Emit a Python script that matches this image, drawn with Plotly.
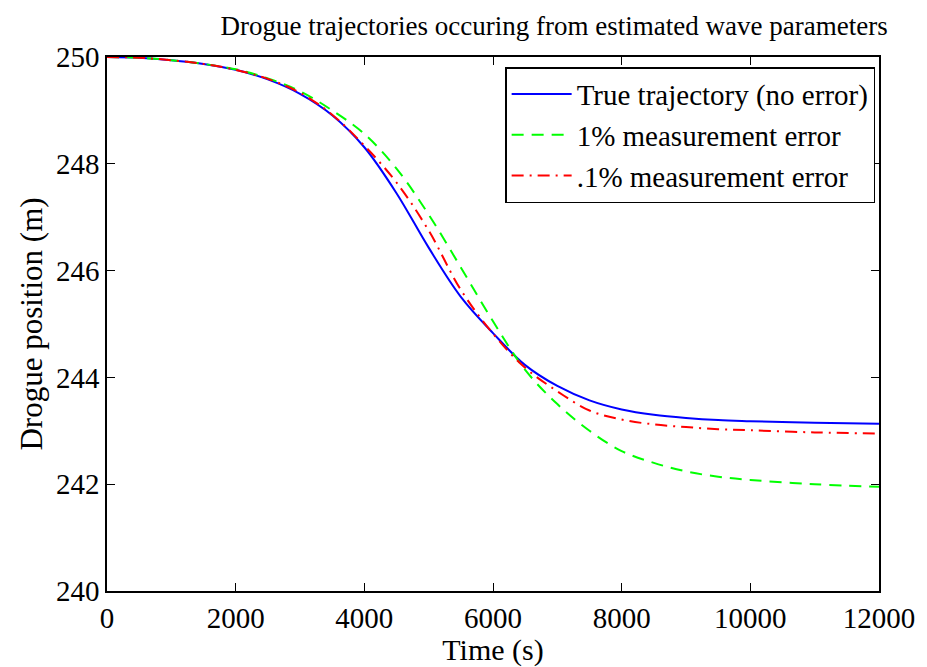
import plotly.graph_objects as go

time_s = [0, 500, 1000, 1500, 2000, 2500, 3000, 3500, 4000, 4500, 5000, 5500, 6000, 6500,
          7000, 7500, 8000, 8500, 9000, 9500, 10000, 11000, 12000]
true_traj = [250.0, 249.985, 249.94, 249.87, 249.76, 249.58, 249.31, 248.91, 248.31, 247.45,
             246.43, 245.51, 244.83, 244.23, 243.84, 243.57, 243.40, 243.30, 243.24, 243.20,
             243.18, 243.15, 243.13]
err_1pct = [250.0, 249.985, 249.94, 249.87, 249.77, 249.60, 249.36, 249.00, 248.56, 247.91,
            247.05, 246.06, 245.05, 244.14, 243.50, 243.00, 242.62, 242.40, 242.24, 242.14,
            242.08, 242.00, 241.95]
err_01pct = [250.0, 249.985, 249.94, 249.87, 249.76, 249.59, 249.33, 248.92, 248.34, 247.65,
             246.75, 245.64, 244.82, 244.18, 243.74, 243.38, 243.21, 243.12, 243.07, 243.03,
             243.01, 242.97, 242.95]

x_ticks = [0, 2000, 4000, 6000, 8000, 10000, 12000]
y_ticks = [240, 242, 244, 246, 248, 250]

font_family = "Liberation Serif, Times New Roman, serif"

fig = go.Figure()
fig.add_trace(go.Scatter(x=time_s, y=true_traj, mode="lines", name="True trajectory (no error)",
                         line=dict(color="#0000ff", width=2, shape="spline", smoothing=1)))
fig.add_trace(go.Scatter(x=time_s, y=err_1pct, mode="lines", name="1% measurement error",
                         line=dict(color="#00ff00", width=2, dash="12px,8px", shape="spline", smoothing=1)))
fig.add_trace(go.Scatter(x=time_s, y=err_01pct, mode="lines", name=".1% measurement error",
                         line=dict(color="#ff0000", width=2, dash="12px,6px,2px,6px", shape="spline", smoothing=1)))

axis_common = dict(showgrid=False, zeroline=False, showline=True, linecolor="black", linewidth=1.5,
                   mirror="allticks", ticks="inside", ticklen=8, tickcolor="black", tickwidth=1,
                   tickfont=dict(family=font_family, size=29, color="black"))

fig.update_layout(
    width=927, height=667,
    margin=dict(l=107, r=43, t=57, b=74),
    paper_bgcolor="white", plot_bgcolor="white",
    font=dict(family=font_family, size=28, color="black"),
    title=dict(text="Drogue trajectories occuring from estimated wave parameters",
               x=0.5977, xref="container", xanchor="center", y=0.962, yanchor="middle",
               font=dict(family=font_family, size=27, color="black")),
    xaxis=dict(range=[0, 12000], tickvals=x_ticks, ticktext=[str(v) for v in x_ticks],
               title=dict(text="Time (s)", standoff=0,
                          font=dict(family=font_family, size=30, color="black")),
               **axis_common),
    yaxis=dict(range=[240, 250], tickvals=y_ticks, ticktext=[str(v) for v in y_ticks],
               title=dict(text="Drogue position (m)", standoff=4,
                          font=dict(family=font_family, size=31, color="black")),
               **axis_common),
    legend=dict(x=0.995, y=0.981, xanchor="right", yanchor="top",
                bgcolor="white", bordercolor="black", borderwidth=1.5,
                font=dict(family=font_family, size=29, color="black"),
                itemwidth=60, tracegroupgap=0),
    showlegend=True,
)

fig.write_html("out.html")
